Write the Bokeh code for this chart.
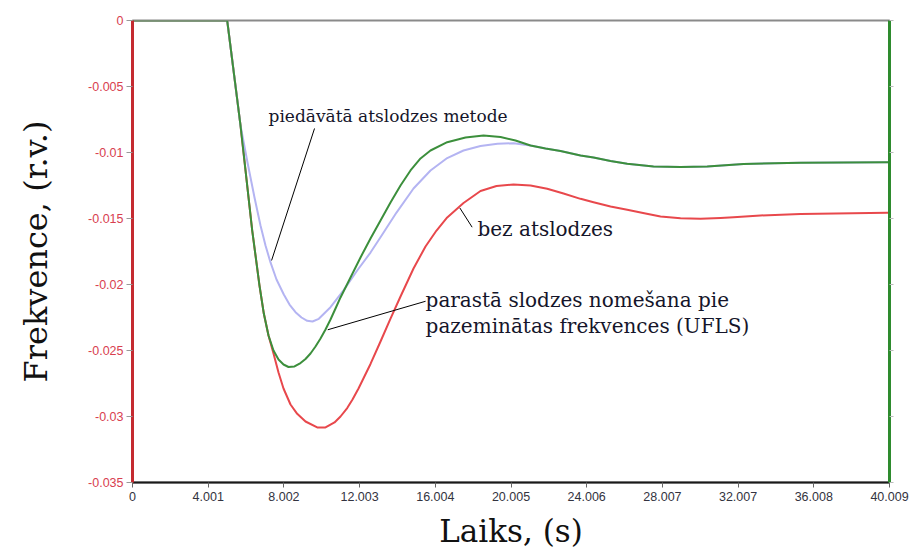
from bokeh.plotting import figure
from bokeh.models import LinearAxis, FixedTicker, Label, Range1d
from bokeh.embed import file_html
from bokeh.resources import INLINE

# --- data (time in s, frequency in r.v.) ---
t_red = [0, 5.005, 5.708, 6.327, 6.501, 6.712, 6.940, 7.188, 7.452, 7.717, 7.981, 8.351,
         8.705, 9.144, 9.762, 10.201, 10.677, 10.994, 11.348, 11.628, 11.945, 12.579,
         13.108, 13.636, 14.165, 14.852, 15.486, 16.068, 16.633, 17.495, 18.393, 19.239,
         20.137, 21.036, 21.918, 22.780, 23.679, 24.366, 25.264, 26.147, 27.114, 27.907,
         28.964, 30.021, 31.078, 31.765, 33.192, 35.307, 39.889, 40.009]
f_red = [0, 0, -0.00795, -0.01591, -0.01780, -0.02008, -0.02220, -0.02386, -0.02523,
         -0.02667, -0.02788, -0.02909, -0.02980, -0.03038, -0.03083, -0.03083, -0.03045,
         -0.03000, -0.02936, -0.02871, -0.02788, -0.02602, -0.02432, -0.02258, -0.02091,
         -0.01879, -0.01712, -0.01591, -0.01492, -0.01383, -0.01292, -0.01254, -0.01242,
         -0.01250, -0.01275, -0.01311, -0.01351, -0.01377, -0.01409, -0.01434, -0.01462,
         -0.01485, -0.01498, -0.01502, -0.01496, -0.01490, -0.01477, -0.01466, -0.01457,
         -0.01457]

t_green = [0, 5.005, 5.708, 6.327, 6.501, 6.712, 6.940, 7.188, 7.452, 7.717, 7.981, 8.245,
           8.562, 8.879, 9.144, 9.408, 9.672, 9.937, 10.201, 10.465, 10.729, 10.994,
           11.522, 12.051, 12.579, 13.108, 13.636, 14.165, 14.693, 15.222, 15.750, 16.633,
           17.600, 18.552, 19.450, 20.243, 21.036, 21.829, 22.621, 23.679, 24.366, 25.264,
           26.147, 27.537, 28.964, 30.375, 32.294, 35.307, 39.889, 40.009]
f_green = [0, 0, -0.00795, -0.01591, -0.01780, -0.02008, -0.02220, -0.02386, -0.02500,
           -0.02568, -0.02606, -0.02625, -0.02621, -0.02595, -0.02564, -0.02523, -0.02470,
           -0.02409, -0.02341, -0.02265, -0.02182, -0.02098, -0.01947, -0.01795, -0.01652,
           -0.01515, -0.01379, -0.01250, -0.01136, -0.01045, -0.00985, -0.00922, -0.00886,
           -0.00871, -0.00883, -0.00909, -0.00947, -0.00970, -0.00989, -0.01023, -0.01038,
           -0.01064, -0.01086, -0.01106, -0.01110, -0.01106, -0.01087, -0.01078, -0.01073,
           -0.01073]

t_blue = [0, 5.005, 5.708, 6.078, 6.448, 6.765, 7.030, 7.294, 7.611, 7.997, 8.298, 8.615,
          8.932, 9.234, 9.514, 9.847, 10.465, 11.152, 11.876, 12.579, 13.108, 13.953,
          14.852, 15.750, 16.633, 17.495, 18.393, 19.292, 20.137, 21.036, 21.829, 22.621,
          23.679, 24.366, 25.264, 26.147, 27.537, 28.964, 30.375, 32.294, 35.307, 39.889,
          40.009]
f_blue = [0, 0, -0.00795, -0.01076, -0.01341, -0.01553, -0.01705, -0.01833, -0.01962,
          -0.02076, -0.02152, -0.02210, -0.02250, -0.02275, -0.02280, -0.02260, -0.02172,
          -0.02045, -0.01894, -0.01758, -0.01642, -0.01455, -0.01273, -0.01136, -0.01042,
          -0.00985, -0.00951, -0.00933, -0.00930, -0.00947, -0.00970, -0.00989, -0.01023,
          -0.01038, -0.01064, -0.01086, -0.01106, -0.01110, -0.01106, -0.01087, -0.01078,
          -0.01073, -0.01073]

x_ticks = [0, 4.001, 8.002, 12.003, 16.004, 20.005, 24.006, 28.007, 32.007, 36.008, 40.009]
x_tick_labels = ["0", "4.001", "8.002", "12.003", "16.004", "20.005", "24.006", "28.007",
                 "32.007", "36.008", "40.009"]
y_ticks = [0, -0.005, -0.01, -0.015, -0.02, -0.025, -0.03, -0.035]
y_tick_labels = ["0", "-0.005", "-0.01", "-0.015", "-0.02", "-0.025", "-0.03", "-0.035"]

labels_text = ["piedāvātā atslodzes metode", "bez atslodzes",
               "parastā slodzes nomešana pie", "pazeminātas frekvences (UFLS)"]
labels_size = ["17px", "20px", "20px", "20px"]
labels_t = [7.19, 18.23, 15.49, 15.49]
labels_f = [-0.00727, -0.01583, -0.02114, -0.02318]

pointer_t0 = [9.62, 17.30, 15.49]
pointer_f0 = [-0.00818, -0.01420, -0.02127]
pointer_t1 = [7.35, 17.95, 10.32]
pointer_f1 = [-0.01818, -0.01566, -0.02343]

RED = "#e8484c"
GREEN = "#3c8f3c"
BLUE = "#b4b4f2"

p = figure(width=913, height=552, output_backend="svg", toolbar_location=None,
           x_range=Range1d(0, 40.009), y_range=Range1d(-0.035, 0),
           min_border_left=132, min_border_right=24, min_border_top=20, min_border_bottom=70,
           background_fill_color="white", border_fill_color="white")
p.grid.visible = False
p.outline_line_color = "#8a8a8a"
p.outline_line_width = 2

p.line(t_red, f_red, line_color=RED, line_width=2, line_join="round")
p.line(t_blue, f_blue, line_color=BLUE, line_width=2, line_join="round")
p.line(t_green, f_green, line_color=GREEN, line_width=2, line_join="round")

p.segment(pointer_t0, pointer_f0, pointer_t1, pointer_f1, line_color="black", line_width=1)

for txt, sz, tx, fy in zip(labels_text, labels_size, labels_t, labels_f):
    p.add_layout(Label(x=tx, y=fy, text=txt, text_font="DejaVu Serif",
                       text_font_size=sz, text_color="#15152a",
                       text_baseline="middle", text_align="left"))

# bottom axis
xa = p.xaxis[0]
xa.ticker = FixedTicker(ticks=x_ticks)
xa.major_label_overrides = {v: s for v, s in zip(x_ticks, x_tick_labels)}
xa.axis_line_color = "#1a1a1a"
xa.axis_line_width = 2
xa.major_tick_out = 5
xa.major_tick_in = 0
xa.minor_tick_line_color = None
xa.major_tick_line_color = "#666666"
xa.major_label_text_font = "Liberation Sans"
xa.major_label_text_font_size = "12.5px"
xa.major_label_text_color = "#333340"
xa.major_label_standoff = 4
xa.axis_label = "Laiks, (s)"
xa.axis_label_text_font = "DejaVu Serif"
xa.axis_label_text_font_size = "31px"
xa.axis_label_text_font_style = "normal"
xa.axis_label_text_color = "#111111"
xa.axis_label_standoff = 9

# left axis
ya = p.yaxis[0]
ya.ticker = FixedTicker(ticks=y_ticks)
ya.major_label_overrides = {v: s for v, s in zip(y_ticks, y_tick_labels)}
ya.axis_line_color = "#c42a30"
ya.axis_line_width = 3
ya.major_tick_out = 6
ya.major_tick_in = 0
ya.minor_tick_line_color = None
ya.major_tick_line_color = "#999999"
ya.major_label_text_font = "Liberation Sans"
ya.major_label_text_font_size = "12.5px"
ya.major_label_text_color = "#d8404f"
ya.major_label_standoff = 3
ya.axis_label = "Frekvence, (r.v.)"
ya.axis_label_text_font = "DejaVu Serif"
ya.axis_label_text_font_size = "32px"
ya.axis_label_text_font_style = "normal"
ya.axis_label_text_color = "#111111"
ya.axis_label_standoff = 30

# right axis (green, no labels)
ra = LinearAxis(ticker=FixedTicker(ticks=y_ticks))
ra.axis_line_color = "#2e8b2e"
ra.axis_line_width = 3
ra.major_tick_out = 4
ra.major_tick_in = 0
ra.major_tick_line_color = "#bbbbbb"
ra.minor_tick_line_color = None
ra.major_label_text_font_size = "0px"
ra.major_label_text_color = None
ra.major_label_standoff = 0
p.add_layout(ra, "right")

open("out.html", "w").write(file_html(p, INLINE))
